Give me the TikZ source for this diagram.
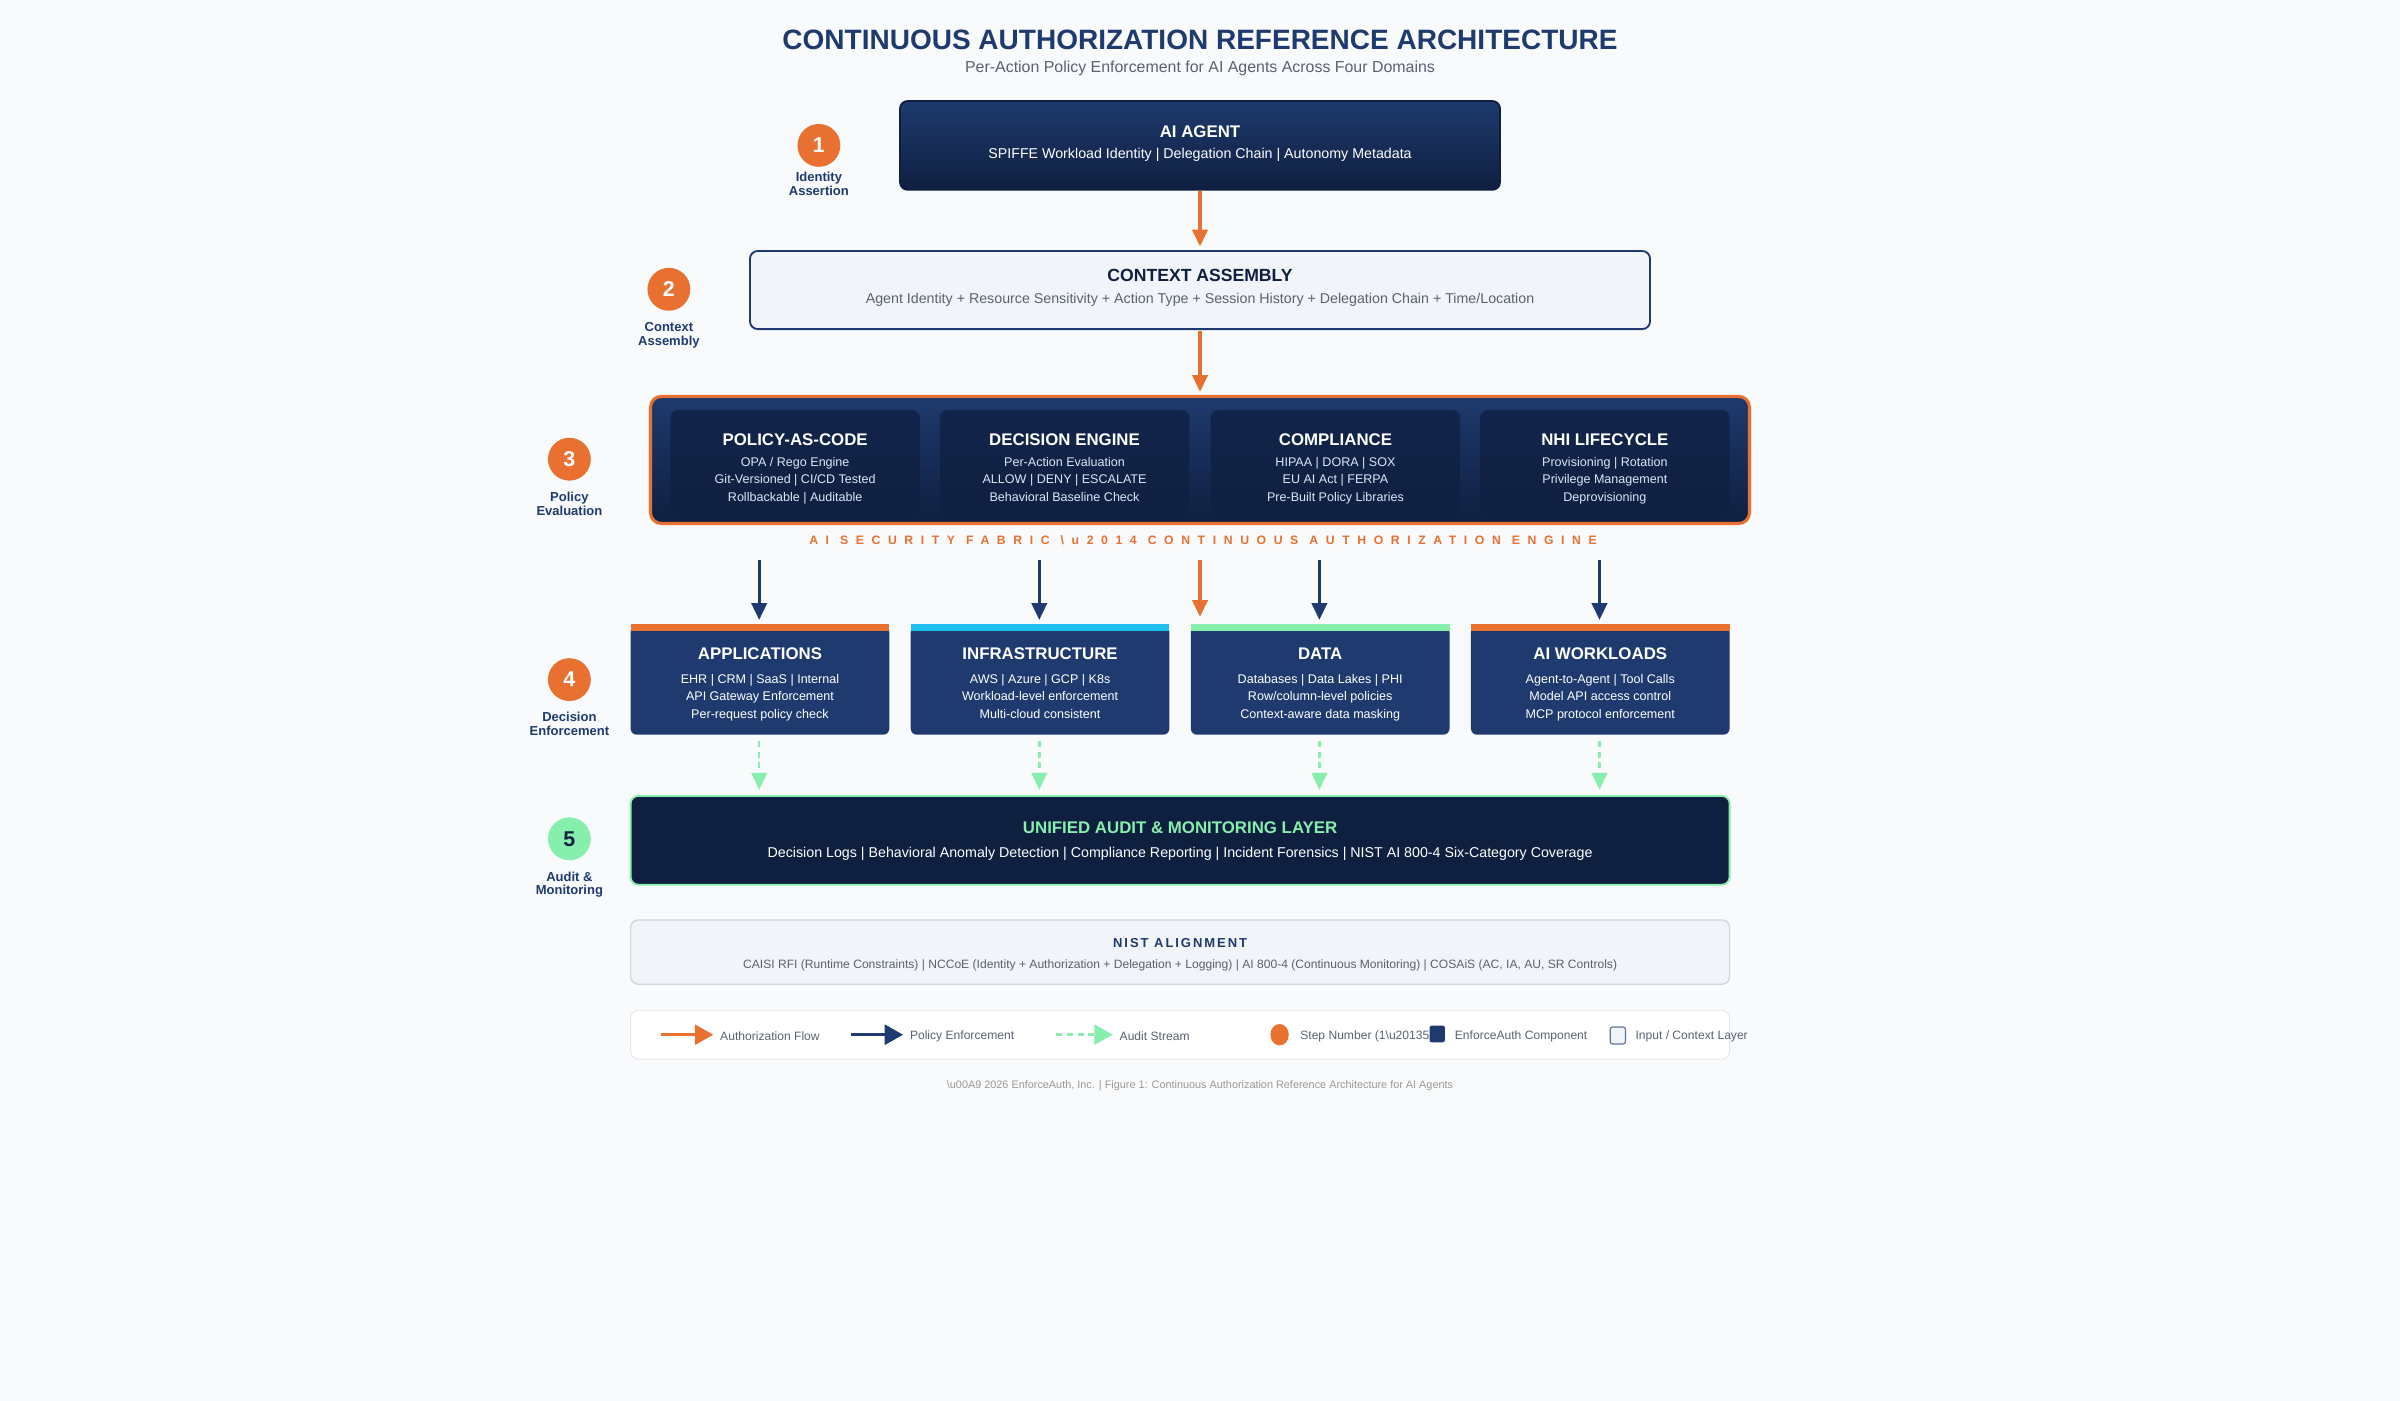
\documentclass[tikz,border=0pt]{standalone}
\usepackage{fontspec}
\setmainfont{Liberation Sans}
\usetikzlibrary{arrows.meta}
\definecolor{bg}{HTML}{F8FAFC}
\definecolor{navy}{HTML}{1E3A6E}
\definecolor{navyd}{HTML}{0F1F40}
\definecolor{orng}{HTML}{E87030}
\definecolor{mint}{HTML}{86EFAC}
\definecolor{cyanb}{HTML}{1EC0EE}
\definecolor{lite}{HTML}{F1F4F8}
\definecolor{grayt}{HTML}{5A6270}
\definecolor{lgray}{HTML}{D0D5DD}
\definecolor{subt}{HTML}{DCE6F5}
\tikzset{
 x=1pt,y=-1pt,
 stepc/.style={circle,fill=orng,minimum size=28pt,inner sep=0,text=white,font=\bfseries\fontsize{14}{14}\selectfont},
 steplbl/.style={align=center,text=navy,font=\bfseries\fontsize{8.5}{9}\selectfont,anchor=north},
 ttl/.style={text=white,font=\bfseries\fontsize{11}{12}\selectfont},
 sml/.style={text=subt,font=\fontsize{8.2}{11.5}\selectfont,align=center,anchor=north},
 oarr/.style={draw=orng,line width=2pt,-{Triangle[length=11pt,width=10pt]}},
 narr/.style={draw=navy,line width=2pt,-{Triangle[length=11pt,width=10pt]}},
 marr/.style={draw=mint,line width=1.6pt,dash pattern=on 4pt off 3pt,-{Triangle[length=11pt,width=10pt]}},
}
\newcommand\fcard[5]{%
 \fill[navyd,opacity=0.75,rounded corners=5pt] (#1,268) rectangle (#1+163,335);
 \node[ttl] at (#1+81.5,287) {#2};
 \node[sml] at (#1+81.5,295) {#3\\#4\\#5};}
\newcommand\dcard[6]{%
 \fill[navy,rounded corners=4pt] (#1,409) rectangle (#1+169,480);
 \fill[#2] (#1,408) rectangle (#1+169,412);
 \node[ttl] at (#1+84.5,427) {#3};
 \node[sml,text=white] at (#1+84.5,437) {#4\\#5\\#6};
 \draw[marr] (#1+84,484) -- (#1+84,516);}
\begin{document}
\begin{tikzpicture}
\useasboundingbox[fill=bg] (0,0) rectangle (1568,915);
\node[text=navy,font=\bfseries\fontsize{18.3}{20}\selectfont] (title) at (784,26) {CONTINUOUS AUTHORIZATION REFERENCE ARCHITECTURE};
\node[text=grayt,font=\fontsize{10.4}{11}\selectfont] (sub) at (784,45) {Per-Action Policy Enforcement for AI Agents Across Four Domains};
\draw[draw=navyd,line width=1.2pt,rounded corners=5pt,top color=navy,bottom color=navyd] (588,66) rectangle (980,124);
\node[ttl] at (784,86) {AI AGENT};
\node[text=white,font=\fontsize{9.3}{10}\selectfont] at (784,101) {SPIFFE Workload Identity | Delegation Chain | Autonomy Metadata};
\node[stepc] (s1) at (535,95) {1};
\node[steplbl] at (535,109) {Identity\\Assertion};
\draw[draw=navy,line width=1.2pt,rounded corners=5pt,fill=lite] (490,164) rectangle (1078,215);
\node[text=navyd,font=\bfseries\fontsize{11.5}{12}\selectfont] at (784,180) {CONTEXT ASSEMBLY};
\node[text=grayt,font=\fontsize{9.3}{10}\selectfont] at (784,196) {Agent Identity + Resource Sensitivity + Action Type + Session History + Delegation Chain + Time/Location};
\node[stepc] (s2) at (437,189) {2};
\node[steplbl] at (437,207) {Context\\Assembly};
\coordinate (a1) at (784,125); \coordinate (a2) at (784,161);
\draw[oarr] (a1) -- (a2);
\coordinate (b1) at (784,216); \coordinate (b2) at (784,256);
\draw[oarr] (b1) -- (b2);
\draw[draw=orng,line width=2pt,rounded corners=7pt,top color=navy,bottom color=navyd] (425,259) rectangle (1143,342);
\fcard{438}{POLICY-AS-CODE}{OPA / Rego Engine}{Git-Versioned | CI/CD Tested}{Rollbackable | Auditable}
\fcard{614}{DECISION ENGINE}{Per-Action Evaluation}{ALLOW | DENY | ESCALATE}{Behavioral Baseline Check}
\fcard{791}{COMPLIANCE}{HIPAA | DORA | SOX}{EU AI Act | FERPA}{Pre-Built Policy Libraries}
\fcard{967}{NHI LIFECYCLE}{Provisioning | Rotation}{Privilege Management}{Deprovisioning}
\node[text=orng,font=\bfseries\fontsize{8}{9}\selectfont\addfontfeature{LetterSpace=62}] (fab) at (786,353) {AI SECURITY FABRIC \textbackslash u2014 CONTINUOUS AUTHORIZATION ENGINE};
\node[stepc] (s3) at (372,300) {3};
\node[steplbl] at (372,318) {Policy\\Evaluation};
\foreach \x in {496,679,862,1045}{\draw[narr] (\x,366) -- (\x,405);}
\draw[oarr] (784,366) -- (784,403);
\dcard{412}{orng}{APPLICATIONS}{EHR | CRM | SaaS | Internal}{API Gateway Enforcement}{Per-request policy check}
\dcard{595}{cyanb}{INFRASTRUCTURE}{AWS | Azure | GCP | K8s}{Workload-level enforcement}{Multi-cloud consistent}
\dcard{778}{mint}{DATA}{Databases | Data Lakes | PHI}{Row/column-level policies}{Context-aware data masking}
\dcard{961}{orng}{AI WORKLOADS}{Agent-to-Agent | Tool Calls}{Model API access control}{MCP protocol enforcement}
\node[stepc] (s4) at (372,444) {4};
\node[steplbl] at (372,462) {Decision\\Enforcement};
\draw[draw=mint,line width=1.2pt,rounded corners=5pt,fill=navyd] (412,520) rectangle (1130,578);
\node[text=mint,font=\bfseries\fontsize{11}{12}\selectfont] at (771,541) {UNIFIED AUDIT \& MONITORING LAYER};
\node[text=white,font=\fontsize{9.3}{10}\selectfont] at (771,558) {Decision Logs | Behavioral Anomaly Detection | Compliance Reporting | Incident Forensics | NIST AI 800-4 Six-Category Coverage};
\node[stepc,fill=mint,text=navyd] (s5) at (372,548) {5};
\node[steplbl] at (372,566) {Audit \&\\Monitoring};
\draw[draw=lgray,line width=0.8pt,rounded corners=5pt,fill=lite] (412,601) rectangle (1130,643);
\node[text=navy,font=\bfseries\fontsize{8.5}{9}\selectfont\addfontfeature{LetterSpace=15}] at (771,616) {NIST ALIGNMENT};
\node[text=grayt,font=\fontsize{7.9}{9}\selectfont] at (771,631) {CAISI RFI (Runtime Constraints) | NCCoE (Identity + Authorization + Delegation + Logging) | AI 800-4 (Continuous Monitoring) | COSAiS (AC, IA, AU, SR Controls)};
\draw[draw=lgray!60,line width=0.6pt,rounded corners=5pt,fill=white] (412,660) rectangle (1130,692);
\tikzset{lt/.style={text=grayt,font=\fontsize{7.9}{9}\selectfont,anchor=west}}
\coordinate (l1a) at (432,676); \coordinate (l1b) at (466,676);
\draw[draw=orng,line width=2pt,-{Triangle[length=12pt,width=13pt]}] (l1a) -- (l1b);
\node[lt] at (467,677) {Authorization Flow};
\coordinate (l2a) at (556,676); \coordinate (l2b) at (590,676);
\draw[draw=navy,line width=2pt,-{Triangle[length=12pt,width=13pt]}] (l2a) -- (l2b);
\node[lt] at (591,677) {Policy Enforcement};
\coordinate (l3a) at (690,676); \coordinate (l3b) at (727,676);
\draw[draw=mint,line width=1.6pt,dash pattern=on 4pt off 3pt,-{Triangle[length=12pt,width=13pt]}] (l3a) -- (l3b);
\node[lt] at (728,677) {Audit Stream};
\fill[orng] (836,676) ellipse (6pt and 7pt);
\node[lt] at (846,677) {Step Number (1\textbackslash u20135)};
\fill[navy,rounded corners=1.5pt] (934,670) rectangle (944,681);
\node[lt] at (947,677) {EnforceAuth Component};
\draw[navy!70,line width=0.8pt,fill=lite,rounded corners=1.5pt] (1052,671) rectangle (1062,682);
\node[lt] at (1065,677) {Input / Context Layer};
\node[text=gray!80,font=\fontsize{7.1}{8}\selectfont] (foot) at (784,709) {\textbackslash u00A9 2026 EnforceAuth, Inc. | Figure 1: Continuous Authorization Reference Architecture for AI Agents};
\end{tikzpicture}
\end{document}
